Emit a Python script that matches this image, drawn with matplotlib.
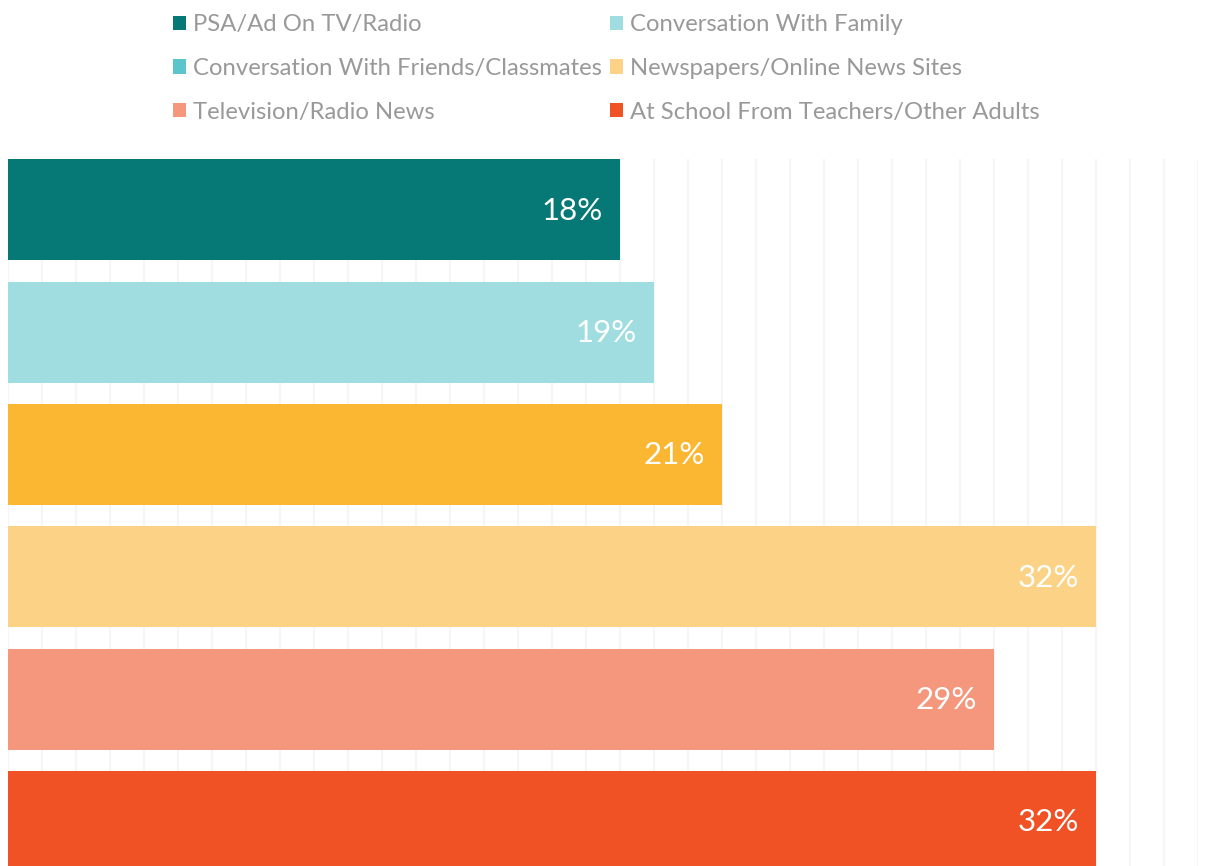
import matplotlib
matplotlib.use("Agg")
import matplotlib.pyplot as plt
from matplotlib.patches import Patch

categories = [
    "PSA/Ad On TV/Radio",
    "Conversation With Family",
    "Conversation With Friends/Classmates",
    "Newspapers/Online News Sites",
    "Television/Radio News",
    "At School From Teachers/Other Adults",
]
values = [18, 19, 21, 32, 29, 32]
bar_colors = ["#067876", "#a0dde0", "#fbb632", "#fcd386", "#f4977c", "#f05125"]
legend_colors = ["#067876", "#a0dde0", "#5bc5cc", "#fcd386", "#f4977c", "#f05125"]
value_labels = ["18%", "19%", "21%", "32%", "29%", "32%"]

plt.rcParams["font.family"] = ["Lato", "DejaVu Sans"]

W, H = 1207, 866
fig = plt.figure(figsize=(W / 100, H / 100), dpi=100)
ax = fig.add_axes([8 / W, 0, (1198 - 8) / W, 1 - 159 / H])

ypos = list(range(len(categories)))
bars = ax.barh(ypos, values, height=0.825, color=bar_colors, zorder=2)
ax.set_xlim(0, 35)
ax.set_ylim(5 + 0.364, -0.415)
ax.set_xticks(range(0, 36))
ax.grid(axis="x", color="#f5f5f5", linewidth=1.5, zorder=0)
ax.tick_params(left=False, bottom=False, labelleft=False, labelbottom=False)
for s in ax.spines.values():
    s.set_visible(False)

for y, v, lab in zip(ypos, values, value_labels):
    ax.annotate(lab, xy=(v, y), xytext=(-17, -1), textcoords="offset pixels",
                ha="right", va="center", color="white", fontsize=22.5,
                fontweight="normal", zorder=3)

handles = [Patch(facecolor=c, edgecolor="none") for c in legend_colors]
order = [0, 2, 4, 1, 3, 5]
leg = fig.legend([handles[i] for i in order], [categories[i] for i in order],
                 ncol=2, loc="center", bbox_to_anchor=(606 / W, 1 - 68.5 / H),
                 frameon=False, fontsize=17.2, handlelength=0.55, handleheight=0.55,
                 handletextpad=0.28, columnspacing=0.35, labelspacing=0.95,
                 borderpad=0, borderaxespad=0)
for t in leg.get_texts():
    t.set_color("#999999")

fig.savefig("out.png", dpi=100)
